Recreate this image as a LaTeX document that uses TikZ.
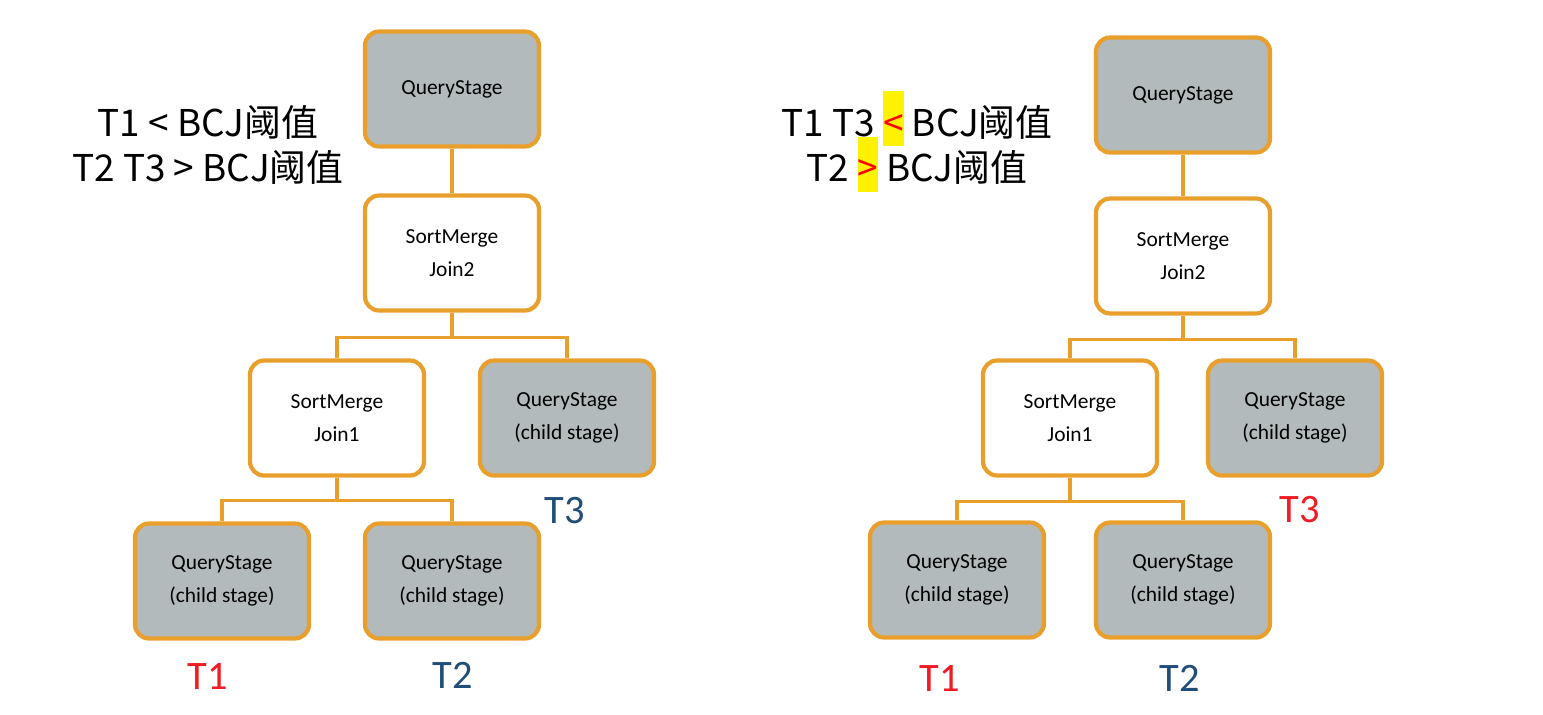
\documentclass[tikz,border=0pt]{standalone}
\usepackage{fontspec}
\setmainfont{Carlito}
\newfontfamily\cjk{Noto Sans CJK SC}
\definecolor{orng}{HTML}{E89F2C}
\definecolor{stagegray}{HTML}{B3BABB}
\definecolor{tblue}{HTML}{1F4E79}
\definecolor{tred}{HTML}{EE1C25}
\newcommand\hlmark[1]{\raisebox{0pt}[0pt][0pt]{\setlength{\fboxsep}{0pt}\colorbox{yellow}{\rule[-0.27em]{0pt}{1.5em}\textcolor{red}{#1}}}}
\begin{document}
\begin{tikzpicture}[x=0.02cm, y=-0.02cm,
  stage/.style={draw=orng, line width=2.4pt, rounded corners=8pt, fill=stagegray, minimum width=3.48cm, minimum height=2.3cm, align=center, font=\fontsize{12.2}{19}\selectfont},
  joinbox/.style={stage, fill=white},
  link/.style={draw=orng, line width=1.9pt},
  tlab/.style={font=\fontsize{23}{27}\selectfont},
  note/.style={font=\cjk\fontsize{21}{26}\selectfont, align=center}]
\useasboundingbox (0,0) rectangle (1543,714);

% left tree
\node[note] (noteL) at (208,145) {T1 < BCJ阈值\\T2 T3 > BCJ阈值};
\node[stage] (topL) at (452,89) {\raisebox{-2pt}{QueryStage}};
\node[joinbox] (jtwoL) at (452,253) {SortMerge\\Join2};
\node[joinbox] (joneL) at (337,418) {SortMerge\\Join1};
\node[stage] (qsthreeL) at (567,418) {QueryStage\\(child stage)};
\node[stage] (qsoneL) at (222,581) {QueryStage\\(child stage)};
\node[stage] (qstwoL) at (452,581) {QueryStage\\(child stage)};
\node[tlab, text=tred] (toneL) at (208,676) {T1};
\node[tlab, text=tblue] (ttwoL) at (453,675) {T2};
\node[tlab, text=tblue] (tthreeL) at (565,511) {T3};

\draw[link] (topL) -- (jtwoL);
\draw[link] (jtwoL.south) -- ++(0,25) -| (joneL.north);
\draw[link] (jtwoL.south) -- ++(0,25) -| (qsthreeL.north);
\draw[link] (joneL.south) -- ++(0,23) -| (qsoneL.north);
\draw[link] (joneL.south) -- ++(0,23) -| (qstwoL.north);

% right tree
\node[note] (noteR) at (917,145) {T1 T3 \hlmark{<} BCJ阈值\\T2 \hlmark{>} BCJ阈值};
\node[stage] (topR) at (1183,95) {\raisebox{-2pt}{QueryStage}};
\node[joinbox] (jtwoR) at (1183,256) {SortMerge\\Join2};
\node[joinbox] (joneR) at (1070,418) {SortMerge\\Join1};
\node[stage] (qsthreeR) at (1295,418) {QueryStage\\(child stage)};
\node[stage] (qsoneR) at (957,580) {QueryStage\\(child stage)};
\node[stage] (qstwoR) at (1183,580) {QueryStage\\(child stage)};
\node[tlab, text=tred] (toneR) at (940,678) {T1};
\node[tlab, text=tblue] (ttwoR) at (1180,678) {T2};
\node[tlab, text=tred] (tthreeR) at (1300,510) {T3};

\draw[link] (topR) -- (jtwoR);
\draw[link] (jtwoR.south) -- ++(0,24) -| (joneR.north);
\draw[link] (jtwoR.south) -- ++(0,24) -| (qsthreeR.north);
\draw[link] (joneR.south) -- ++(0,24) -| (qsoneR.north);
\draw[link] (joneR.south) -- ++(0,24) -| (qstwoR.north);

\end{tikzpicture}
\end{document}
